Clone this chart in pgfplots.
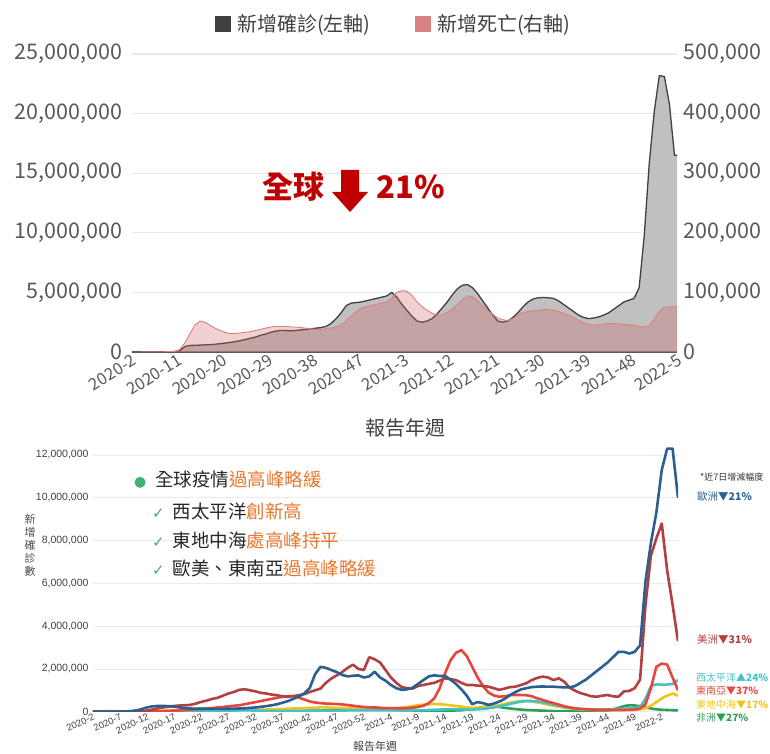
\documentclass[border=0pt]{standalone}
\usepackage{fontspec}
\setmainfont{Noto Sans CJK TC}
\newfontfamily\arialf{Liberation Sans}
\newfontfamily\djv{DejaVu Sans}
\usepackage{pgfplots}
\pgfplotsset{compat=1.18}
\usepackage{pgfplotstable}
\definecolor{casefill}{RGB}{192,192,192}
\definecolor{caseline}{RGB}{64,64,64}
\definecolor{deathfill}{RGB}{205,98,98}
\definecolor{deathline}{RGB}{222,128,128}
\definecolor{legpink}{RGB}{217,128,128}
\definecolor{annred}{RGB}{192,0,0}
\definecolor{tickgray}{RGB}{89,89,89}
\definecolor{eur}{RGB}{43,95,143}
\definecolor{amr}{RGB}{178,64,64}
\definecolor{sea}{RGB}{232,70,60}
\definecolor{wpr}{RGB}{68,194,200}
\definecolor{emr}{RGB}{240,196,25}
\definecolor{afr}{RGB}{46,158,84}
\definecolor{orangetxt}{RGB}{232,120,46}
\definecolor{dotgreen}{RGB}{60,179,113}

\pgfplotstableread{
i c d
0 0.01 0
1 0.01 0
2 0.01 0.2
3 0.02 0.4
4 0.02 0.5
5 0.01 0.5
6 0.01 0.5
7 0.02 0.6
8 0.03 1.5
9 0.1 4
10 0.45 15
11 0.55 30
12 0.56 45
13 0.58 52
14 0.6 50
15 0.62 45
16 0.65 40
17 0.7 36
18 0.75 33
19 0.8 31
20 0.88 31
21 0.95 32
22 1.05 33
23 1.15 34
24 1.25 36
25 1.4 38
26 1.5 40
27 1.65 42
28 1.75 43
29 1.8 43
30 1.8 43
31 1.78 42
32 1.8 42
33 1.85 41
34 1.9 40
35 1.95 39
36 2.0 38
37 2.05 38
38 2.15 39
39 2.4 40
40 2.8 42
41 3.3 46
42 3.9 52
43 4.1 60
44 4.15 68
45 4.2 74
46 4.3 76
47 4.4 78
48 4.5 80
49 4.6 82
50 4.7 84
51 5.0 90
52 4.6 100
53 4.0 103
54 3.5 102
55 3.0 95
56 2.6 84
57 2.5 76
58 2.6 70
59 2.8 65
60 3.2 62
61 3.7 62
62 4.2 66
63 4.8 72
64 5.3 80
65 5.6 88
66 5.65 94
67 5.4 93
68 4.9 86
69 4.3 78
70 3.7 70
71 3.1 63
72 2.6 57
73 2.5 54
74 2.6 53
75 2.9 56
76 3.3 62
77 3.8 66
78 4.2 68
79 4.45 69
80 4.55 70
81 4.57 71
82 4.55 71
83 4.5 70
84 4.3 68
85 4.0 65
86 3.7 62
87 3.4 58
88 3.1 53
89 2.9 49
90 2.8 46
91 2.85 45
92 2.95 46
93 3.1 47
94 3.3 48
95 3.6 48
96 3.9 47
97 4.2 46
98 4.35 46
99 4.5 45
100 5.4 43
101 9.7 42
102 15.8 44
103 20.2 55
104 23.2 68
105 23.1 75
106 20.8 76
107 16.5 76
108 16.5 76
}\toptab

\pgfplotstableread{
i eur amr sea wpr emr afr
0 0 0 0 0.005 0 0
1 0 0 0 0.01 0 0
2 0 0 0 0.02 0 0
3 0 0 0 0.03 0 0
4 0 0 0 0.02 0 0
5 0.002 0 0 0.01 0 0
6 0.01 0 0 0.01 0 0
7 0.03 0 0 0.01 0 0
8 0.06 0 0 0.01 0 0
9 0.12 0.01 0 0.01 0.005 0
10 0.2 0.05 0.005 0.01 0.01 0.002
11 0.25 0.1 0.01 0.01 0.02 0.005
12 0.27 0.16 0.02 0.015 0.03 0.008
13 0.27 0.2 0.03 0.015 0.04 0.01
14 0.26 0.24 0.04 0.015 0.05 0.012
15 0.24 0.27 0.05 0.01 0.06 0.015
16 0.2 0.29 0.06 0.01 0.08 0.02
17 0.17 0.3 0.08 0.01 0.1 0.025
18 0.15 0.32 0.1 0.01 0.12 0.03
19 0.14 0.38 0.11 0.015 0.13 0.04
20 0.14 0.46 0.13 0.015 0.13 0.05
21 0.13 0.52 0.15 0.02 0.13 0.06
22 0.13 0.6 0.17 0.02 0.13 0.07
23 0.13 0.65 0.2 0.03 0.12 0.08
24 0.13 0.75 0.22 0.03 0.11 0.1
25 0.14 0.85 0.25 0.04 0.1 0.11
26 0.14 0.92 0.28 0.05 0.1 0.12
27 0.15 1.02 0.3 0.06 0.09 0.13
28 0.16 1.05 0.35 0.07 0.09 0.12
29 0.18 1.0 0.4 0.06 0.09 0.1
30 0.2 0.95 0.45 0.05 0.09 0.08
31 0.23 0.88 0.5 0.05 0.1 0.07
32 0.26 0.85 0.55 0.04 0.1 0.06
33 0.3 0.8 0.6 0.04 0.11 0.05
34 0.35 0.77 0.65 0.04 0.12 0.05
35 0.42 0.72 0.7 0.04 0.13 0.04
36 0.5 0.7 0.72 0.04 0.14 0.04
37 0.6 0.73 0.73 0.04 0.15 0.04
38 0.72 0.77 0.66 0.04 0.16 0.04
39 0.85 0.82 0.57 0.04 0.17 0.04
40 1.1 0.92 0.48 0.05 0.18 0.04
41 1.75 1.0 0.43 0.05 0.19 0.05
42 2.1 1.08 0.4 0.05 0.2 0.05
43 2.05 1.35 0.38 0.05 0.2 0.06
44 1.95 1.55 0.37 0.05 0.19 0.07
45 1.85 1.7 0.36 0.05 0.18 0.08
46 1.72 1.85 0.34 0.05 0.17 0.09
47 1.65 2.05 0.31 0.06 0.16 0.1
48 1.68 2.2 0.28 0.06 0.15 0.13
49 1.7 2.0 0.25 0.06 0.14 0.15
50 1.6 1.95 0.22 0.06 0.14 0.18
51 1.65 2.55 0.2 0.07 0.14 0.2
52 1.87 2.45 0.19 0.07 0.14 0.2
53 1.6 2.3 0.18 0.07 0.13 0.17
54 1.45 1.95 0.17 0.07 0.13 0.13
55 1.25 1.6 0.17 0.06 0.14 0.1
56 1.1 1.35 0.16 0.06 0.16 0.08
57 1.02 1.15 0.16 0.06 0.19 0.07
58 1.05 1.1 0.17 0.06 0.22 0.06
59 1.12 1.08 0.19 0.06 0.26 0.06
60 1.3 1.2 0.22 0.06 0.3 0.05
61 1.48 1.25 0.28 0.07 0.33 0.05
62 1.65 1.3 0.4 0.08 0.35 0.05
63 1.7 1.35 0.62 0.09 0.36 0.05
64 1.67 1.45 1.1 0.1 0.35 0.05
65 1.67 1.56 1.8 0.11 0.33 0.05
66 1.5 1.52 2.4 0.12 0.3 0.05
67 1.3 1.48 2.75 0.12 0.27 0.06
68 1.05 1.35 2.88 0.11 0.24 0.07
69 0.75 1.25 2.6 0.1 0.2 0.1
70 0.35 1.25 2.1 0.1 0.18 0.14
71 0.45 1.22 1.6 0.11 0.18 0.18
72 0.4 1.2 1.2 0.13 0.2 0.22
73 0.32 1.17 0.9 0.16 0.22 0.24
74 0.38 1.1 0.76 0.2 0.26 0.25
75 0.47 1.02 0.7 0.25 0.3 0.22
76 0.6 1.08 0.72 0.3 0.36 0.18
77 0.78 1.15 0.77 0.36 0.42 0.15
78 0.92 1.17 0.78 0.42 0.47 0.12
79 1.04 1.25 0.78 0.47 0.5 0.1
80 1.1 1.33 0.77 0.5 0.5 0.08
81 1.15 1.48 0.72 0.5 0.48 0.07
82 1.17 1.58 0.63 0.48 0.44 0.06
83 1.18 1.64 0.55 0.44 0.39 0.05
84 1.17 1.6 0.47 0.38 0.33 0.04
85 1.17 1.48 0.4 0.33 0.28 0.03
86 1.15 1.56 0.33 0.28 0.23 0.03
87 1.14 1.4 0.26 0.22 0.19 0.02
88 1.14 1.12 0.2 0.18 0.16 0.02
89 1.2 0.98 0.16 0.15 0.13 0.02
90 1.35 0.87 0.13 0.13 0.11 0.02
91 1.5 0.8 0.11 0.12 0.1 0.02
92 1.7 0.72 0.1 0.11 0.09 0.03
93 1.9 0.7 0.09 0.1 0.08 0.03
94 2.1 0.75 0.09 0.1 0.08 0.04
95 2.3 0.78 0.08 0.11 0.08 0.06
96 2.55 0.72 0.08 0.12 0.08 0.1
97 2.8 0.7 0.08 0.13 0.08 0.18
98 2.8 0.95 0.08 0.14 0.08 0.26
99 2.72 0.97 0.09 0.15 0.08 0.3
100 2.8 1.1 0.1 0.17 0.09 0.29
101 3.1 1.5 0.15 0.22 0.11 0.26
102 6.1 5.0 0.35 0.6 0.16 0.2
103 7.9 7.3 1.1 1.2 0.28 0.15
104 9.3 8.1 2.1 1.28 0.45 0.11
105 11.3 8.8 2.25 1.26 0.62 0.09
106 12.3 6.6 2.2 1.27 0.75 0.08
107 12.3 5.0 1.6 1.3 0.85 0.07
108 10.0 3.3 1.0 1.48 0.75 0.06
}\bottab

\begin{document}
\begin{tikzpicture}
\path[use as bounding box] (0pt,0pt) rectangle (770pt,753pt);

% ---------- TOP PANEL ----------
\begin{axis}[
  at={(131.7pt,401pt)}, anchor=south west,
  scale only axis, width=545.3pt, height=298pt,
  xmin=0, xmax=108, ymin=0, ymax=25,
  axis line style={draw=none}, major tick length=0pt,
  ytick={0,5,10,15,20,25},
  yticklabels={0,{5,000,000},{10,000,000},{15,000,000},{20,000,000},{25,000,000}},
  ytick pos=left,
  yticklabel style={font=\fontsize{21.5}{24}\selectfont, text=tickgray, xshift=-6pt},
  xtick={0,9,...,108},
  xticklabels={2020-2,2020-11,2020-20,2020-29,2020-38,2020-47,2021-3,2021-12,2021-21,2021-30,2021-39,2021-48,2022-5},
  xtick pos=bottom,
  xticklabel style={font=\fontsize{16.5}{18}\selectfont, text=tickgray, rotate=32, anchor=north east, inner sep=1pt},
  ymajorgrids, grid style={draw=black!9, line width=1.2pt},
  extra y ticks={0}, extra y tick labels={},
  extra y tick style={grid style={draw=black!65, line width=1.2pt}},
]
\addplot[sharp plot, fill=casefill, draw=caseline, line width=1.3pt, line join=round] table[x expr=\thisrow{i}+0.5,y=c]{\toptab} \closedcycle;
\end{axis}

\begin{axis}[
  at={(131.7pt,401pt)}, anchor=south west,
  scale only axis, width=545.3pt, height=298pt,
  xmin=0, xmax=108, ymin=0, ymax=500,
  axis line style={draw=none}, major tick length=0pt,
  xtick=\empty,
  ytick={0,100,200,300,400,500},
  yticklabels={0,{100,000},{200,000},{300,000},{400,000},{500,000}},
  ytick pos=right,
  yticklabel style={font=\fontsize{21.5}{24}\selectfont, text=tickgray, xshift=3pt},
]
\addplot[sharp plot, fill=deathfill, fill opacity=0.3, draw=deathline, line width=0.9pt, line join=round] table[x expr=\thisrow{i}+0.5,y=d]{\toptab} \closedcycle;
\end{axis}

% legend
\node[anchor=west, inner sep=0pt, text=caseline, font=\fontsize{20}{23}\selectfont] at (215pt,728pt)
  {\textcolor{caseline}{\rule[-1pt]{16pt}{16pt}}\hspace{6pt}新增確診(左軸)};
\node[anchor=west, inner sep=0pt, text=caseline, font=\fontsize{20}{23}\selectfont] at (415pt,728pt)
  {\textcolor{legpink}{\rule[-1pt]{16pt}{16pt}}\hspace{6pt}新增死亡(右軸)};

% annotation
\node[anchor=center, text=annred, font=\bfseries\fontsize{31}{34}\selectfont] at (293pt,566pt) {全球};
\fill[annred] (341pt,583pt) -- (359pt,583pt) -- (359pt,561pt) -- (368pt,561pt) -- (350pt,541pt) -- (332pt,561pt) -- (341pt,561pt) -- cycle;
\node[anchor=center, text=annred, font=\bfseries\fontsize{31}{34}\selectfont] at (411pt,566pt) {21\%};

\node[text=caseline, font=\fontsize{20}{23}\selectfont] at (405pt,325pt) {報告年週};

% ---------- BOTTOM PANEL ----------
\begin{axis}[
  at={(93pt,41.3pt)}, anchor=south west,
  scale only axis, width=585pt, height=267.4pt,
  xmin=0, xmax=108, ymin=0, ymax=12.5,
  axis line style={draw=none}, major tick length=0pt,
  ytick={0,2,4,6,8,10,12},
  yticklabels={0,{2,000,000},{4,000,000},{6,000,000},{8,000,000},{10,000,000},{12,000,000}},
  ytick pos=left,
  yticklabel style={font=\arialf\fontsize{10.5}{12}\selectfont, text=black!75, xshift=-1pt},
  xtick={0,5,...,105},
  xticklabels={2020-2,2020-7,2020-12,2020-17,2020-22,2020-27,2020-32,2020-37,2020-42,2020-47,2020-52,2021-4,2021-9,2021-14,2021-19,2021-24,2021-29,2021-34,2021-39,2021-44,2021-49,2022-2},
  xtick pos=bottom,
  xticklabel style={font=\arialf\fontsize{9.5}{10}\selectfont, text=black!75, rotate=25, anchor=north east, inner sep=1pt},
  ymajorgrids, grid style={draw=black!8, line width=0.8pt},
  every axis plot/.append style={line width=2.6pt, line join=round},
]
\addplot[draw=afr] table[x=i,y=afr]{\bottab};
\addplot[draw=emr] table[x=i,y=emr]{\bottab};
\addplot[draw=wpr] table[x=i,y=wpr]{\bottab};
\addplot[draw=sea] table[x=i,y=sea]{\bottab};
\addplot[draw=amr] table[x=i,y=amr]{\bottab};
\addplot[draw=eur] table[x=i,y=eur]{\bottab};
\end{axis}

\node[align=center, text=black!70, font=\fontsize{11}{13}\selectfont] at (30pt,208pt) {新\\增\\確\\診\\數};
\node[text=black!75, font=\fontsize{11}{12}\selectfont] at (375pt,7pt) {報告年週};

% overlay text
\node[anchor=west, inner sep=0pt, font=\fontsize{18.5}{21}\selectfont] at (134pt,273pt)
  {\textcolor{dotgreen}{\djv\fontsize{14}{16}\selectfont ●}\hspace{9pt}\textcolor{black!85}{全球疫情}\textcolor{orangetxt}{過高峰略緩}};
\node[anchor=west, inner sep=0pt, font=\fontsize{18.5}{21}\selectfont] at (152pt,241.3pt)
  {\textcolor{dotgreen}{\djv\fontsize{15}{17}\selectfont ✓}\hspace{8pt}\textcolor{black!85}{西太平洋}\textcolor{orangetxt}{創新高}};
\node[anchor=west, inner sep=0pt, font=\fontsize{18.5}{21}\selectfont] at (152pt,213pt)
  {\textcolor{dotgreen}{\djv\fontsize{15}{17}\selectfont ✓}\hspace{8pt}\textcolor{black!85}{東地中海}\textcolor{orangetxt}{處高峰持平}};
\node[anchor=west, inner sep=0pt, font=\fontsize{18.5}{21}\selectfont] at (152pt,185pt)
  {\textcolor{dotgreen}{\djv\fontsize{15}{17}\selectfont ✓}\hspace{8pt}\textcolor{black!85}{歐美、東南亞}\textcolor{orangetxt}{過高峰略緩}};

% right labels
\node[anchor=west, inner sep=0pt, text=black!80, font=\fontsize{9}{10}\selectfont] at (700pt,276.3pt) {*近7日增減幅度};
\node[anchor=west, inner sep=0pt, text=eur, font=\fontsize{10.5}{12}\selectfont] at (697pt,256.3pt) {歐洲\textbf{▼21\%}};
\node[anchor=west, inner sep=0pt, text=amr, font=\fontsize{10.5}{12}\selectfont] at (697pt,113pt) {美洲\textbf{▼31\%}};
\node[anchor=west, inner sep=0pt, text=wpr, font=\fontsize{10}{12}\selectfont] at (696pt,75.7pt) {西太平洋\textbf{▲24\%}};
\node[anchor=west, inner sep=0pt, text=sea, font=\fontsize{10}{12}\selectfont] at (696pt,62.3pt) {東南亞\textbf{▼37\%}};
\node[anchor=west, inner sep=0pt, text=emr, font=\fontsize{10}{12}\selectfont] at (696pt,48pt) {東地中海\textbf{▼17\%}};
\node[anchor=west, inner sep=0pt, text=afr, font=\fontsize{10}{12}\selectfont] at (696pt,35.7pt) {非洲\textbf{▼27\%}};
\end{tikzpicture}
\end{document}
